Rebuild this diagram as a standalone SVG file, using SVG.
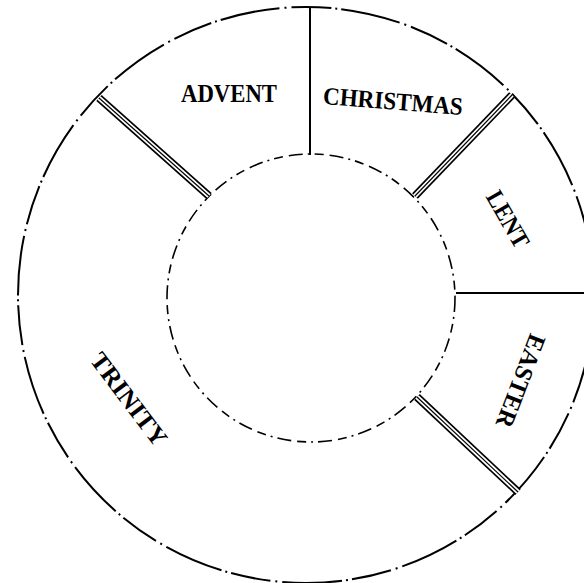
<svg xmlns="http://www.w3.org/2000/svg" width="584" height="583" viewBox="0 0 584 583">
<style>
.ring{fill:none;stroke:#000;}
.outer{stroke-width:2;stroke-dasharray:40 4 2 4 60 5 2 5;}
.inner{stroke-width:1.6;stroke-dasharray:14 5 2 5 9 6;}
.div{stroke:#000;stroke-width:2;fill:none;}
.dblk{stroke:#000;stroke-width:8;}
.dwht{stroke:#fff;stroke-width:4.6;}
.dmid{stroke:#000;stroke-width:1.2;}
.lbl{font-family:"Liberation Serif","Times New Roman",serif;font-size:25px;font-weight:bold;fill:#000;text-anchor:middle;}
</style>
<rect width="584" height="583" fill="#fff"/>
<g id="rings">
<circle class="ring outer" cx="306" cy="295" r="288"/>
<circle class="ring inner" cx="311" cy="298" r="144"/>
</g>
<g id="connectors">
<line class="div" x1="310" y1="7" x2="310" y2="155"/>
<line class="div" x1="456" y1="293" x2="584" y2="293"/>
<g id="dbl1"><line class="dblk" x1="99" y1="98" x2="209" y2="196"/><line class="dwht" x1="99" y1="98" x2="209" y2="196"/><line class="dmid" x1="99" y1="98" x2="209" y2="196"/></g>
<g id="dbl2"><line class="dblk" x1="512" y1="95" x2="415" y2="196"/><line class="dwht" x1="512" y1="95" x2="415" y2="196"/><line class="dmid" x1="512" y1="95" x2="415" y2="196"/></g>
<g id="dbl3"><line class="dblk" x1="417" y1="397" x2="518" y2="492"/><line class="dwht" x1="417" y1="397" x2="518" y2="492"/><line class="dmid" x1="417" y1="397" x2="518" y2="492"/></g>
</g>
<g id="advent"><text class="lbl" x="229" y="102" textLength="96" lengthAdjust="spacingAndGlyphs">ADVENT</text></g>
<g id="christmas"><text class="lbl" transform="translate(393,101) rotate(4.5)" x="0" y="8.5" textLength="140" lengthAdjust="spacingAndGlyphs">CHRISTMAS</text></g>
<g id="lent"><text class="lbl" transform="translate(508,219) rotate(60)" x="0" y="8.5" textLength="62" lengthAdjust="spacingAndGlyphs">LENT</text></g>
<g id="easter"><text class="lbl" transform="translate(521,381) rotate(111)" x="0" y="8.5" textLength="98" lengthAdjust="spacingAndGlyphs">EASTER</text></g>
<g id="trinity"><text class="lbl" transform="translate(129,399) rotate(53)" x="0" y="8.5" textLength="110" lengthAdjust="spacingAndGlyphs">TRINITY</text></g>
</svg>
